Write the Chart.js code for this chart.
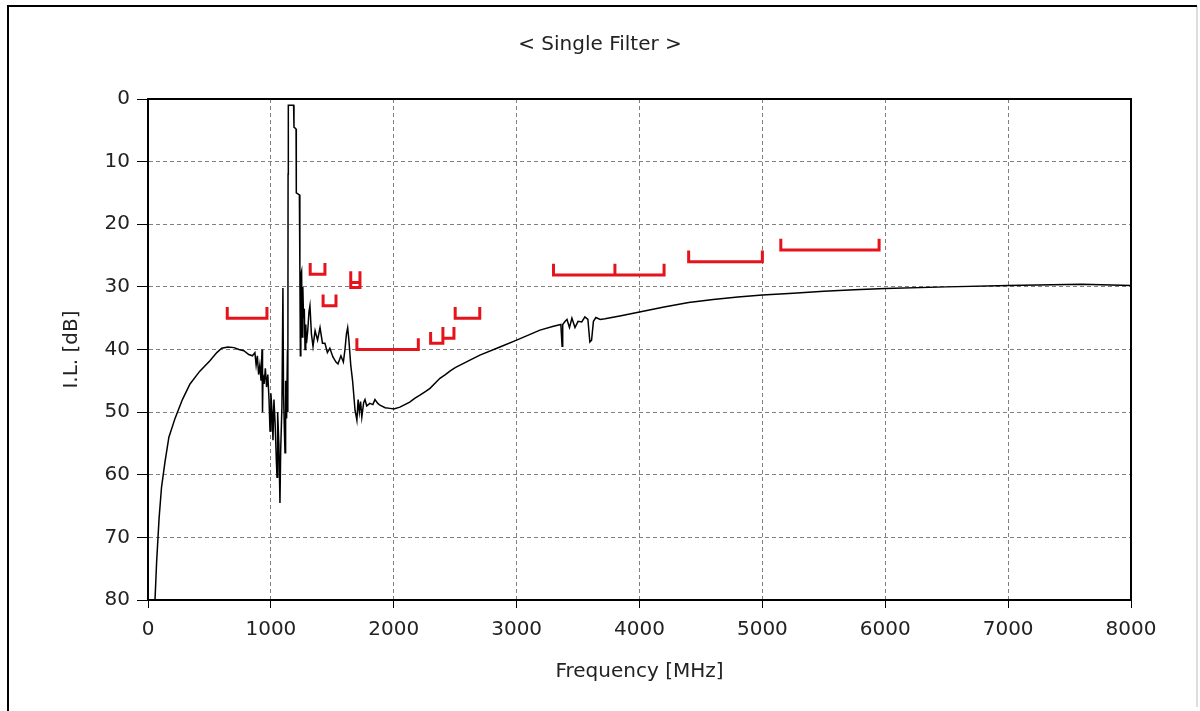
<!DOCTYPE html>
<html>
<head>
<meta charset="utf-8">
<script src="https://cdn.jsdelivr.net/npm/chart.js@4"></script>
<style>
  body { margin: 0; background: #fff; }
  canvas { display: block; }
</style>
</head>
<body>
<canvas id="ilChart" width="1200" height="711"></canvas>
<script>
// Insertion loss curve
const freqMHz = [
  57, 70, 90, 110, 138, 170, 220, 280, 342, 420, 504, 560, 600, 650, 700, 740, 780, 820,
  850, 870, 880, 890, 900, 910, 920, 928, 932, 936, 945, 955, 965, 975, 985, 993,
  1000, 1010, 1017, 1025, 1035, 1045, 1050, 1055, 1065, 1074, 1080, 1090, 1098, 1103,
  1110, 1115, 1120, 1128, 1135, 1138, 1140, 1142, 1185, 1188, 1205, 1207, 1232, 1236,
  1240, 1244, 1250, 1255, 1260, 1266, 1272, 1278, 1284, 1290, 1300, 1310, 1318, 1330,
  1343, 1360, 1380, 1400, 1420, 1440, 1460, 1480, 1505, 1530, 1546, 1570, 1590, 1603,
  1615, 1625, 1635, 1650, 1665, 1685, 1700, 1710, 1720, 1730, 1740, 1755, 1766, 1780,
  1806, 1830, 1847, 1870, 1888, 1930, 1970, 2000, 2050, 2090, 2130, 2170, 2213, 2260,
  2295, 2340, 2376, 2420, 2460, 2500, 2600, 2701, 2864, 3000, 3190, 3300, 3360, 3370, 3375,
  3395, 3410, 3430, 3450, 3475, 3500, 3530, 3556, 3580, 3596, 3610, 3625, 3645, 3680,
  3720, 3850, 4000, 4200, 4400, 4600, 4800, 5000, 5250, 5500, 5750, 6000, 6500, 7000, 7600, 8000
];
const insertionLoss = [
  80, 74, 67, 62, 58, 54, 51, 48, 45.5, 43.5, 41.8, 40.5, 39.8, 39.6, 39.7, 40.0, 40.2, 40.8,
  41.0, 40.5, 42.5, 41, 44, 42.5, 45, 40, 50, 44, 45.5, 43, 46, 44, 48, 53,
  47, 50, 54.5, 48, 52, 58, 60.4, 50, 55, 64.5, 56, 49, 30.2, 47,
  53, 56.5, 45, 51, 40, 50, 12, 1, 1, 4.5, 4.8, 15, 15.3, 27,
  41, 28, 27.5, 38, 30, 35, 33.5, 40, 36, 39, 37, 34, 33, 37.5,
  39.5, 37, 38.5, 36.5, 39, 39, 40.5, 39.8, 41.2, 42, 42.3, 41, 42, 40,
  37.5, 36.5, 38.5, 42.5, 45, 49.7, 51.3, 48, 50, 48.3, 50.8, 48.5, 48, 49,
  48.6, 48.8, 48, 48.6, 48.9, 49.3, 49.4, 49.5, 49.2, 48.8, 48.4, 47.8, 47.3, 46.7,
  46.2, 45.3, 44.6, 44, 43.4, 42.9, 41.9, 40.9, 39.6, 38.5, 36.9, 36.3, 36, 39.5, 36,
  35.5, 35.2, 36.5, 35, 36.5, 35.5, 35.6, 34.8, 35.2, 38.8, 38.5, 35.5, 34.9, 35.2,
  35.1, 34.6, 34.0, 33.2, 32.5, 32.0, 31.6, 31.3, 31.0, 30.7, 30.45, 30.25, 30.0, 29.8, 29.6, 29.8
];

// Red band markers: start / stop frequency and level
const bandLow   = [645, 1320, 1425, 1650, 1650, 1700, 2300, 2400, 2500, 3300, 3800, 4400, 5150];
const bandHigh  = [968, 1440, 1530, 1725, 1725, 2200, 2400, 2490, 2700, 3800, 4200, 5000, 5950];
const bandLevel = [35, 28, 33, 29.3, 30.1, 40, 39, 38.2, 35, 28.1, 28.1, 26, 24.1];

const xTicks = [0, 1000, 2000, 3000, 4000, 5000, 6000, 7000, 8000];
const yTicks = [0, 10, 20, 30, 40, 50, 60, 70, 80];

const BRACKET_TICK = 1.8; // dB, height of the end marks

const curvePoints = freqMHz.map((f, i) => ({ x: f, y: insertionLoss[i] }));

const bandPoints = [];
bandLow.forEach((lo, i) => {
  const hi = bandHigh[i];
  const lv = bandLevel[i];
  bandPoints.push({ x: lo, y: lv - BRACKET_TICK }, { x: lo, y: lv },
                  { x: hi, y: lv }, { x: hi, y: lv - BRACKET_TICK },
                  { x: hi, y: null });
});

const fontFamily = "'DejaVu Sans', Verdana, sans-serif";

// white page with frame, and solid black box round the plot
const framePlugin = {
  id: "frame",
  beforeDraw(chart) {
    const c = chart.ctx;
    c.save();
    c.fillStyle = "#fff";
    c.fillRect(0, 0, chart.width, chart.height);
    c.strokeStyle = "#ddd";
    c.lineWidth = 1;
    c.strokeRect(1196.5, 6.5, 1, 700);
    c.strokeStyle = "#000";
    c.lineWidth = 2;
    c.beginPath();
    c.moveTo(8, 711);
    c.lineTo(8, 6);
    c.lineTo(1197, 6);
    c.stroke();
    c.restore();
  },
  afterDraw(chart) {
    const a = chart.chartArea;
    const c = chart.ctx;
    c.save();
    c.strokeStyle = "#000";
    c.lineWidth = 2;
    c.strokeRect(a.left, a.top, a.right - a.left, a.bottom - a.top);
    c.restore();
  }
};

new Chart(document.getElementById("ilChart").getContext("2d"), {
  type: "line",
  data: {
    datasets: [
      {
        label: "I.L.",
        data: curvePoints,
        borderColor: "#000",
        borderWidth: 1.5,
        pointRadius: 0,
        tension: 0,
        fill: false,
      },
      {
        label: "Bands",
        data: bandPoints,
        borderColor: "#e5131b",
        borderWidth: 3,
        pointRadius: 0,
        tension: 0,
        spanGaps: false,
        fill: false,
      },
    ],
  },
  options: {
    responsive: false,
    animation: false,
    layout: { padding: 0 },
    plugins: {
      legend: { display: false },
      tooltip: { enabled: false },
      title: {
        display: true,
        text: "< Single Filter >",
        color: "#222",
        font: { family: fontFamily, size: 20, weight: "normal" },
        padding: { top: 33, bottom: 42 },
      },
    },
    scales: {
      x: {
        type: "linear",
        min: 0,
        max: 8000,
        afterBuildTicks: (s) => { s.ticks = xTicks.map((v) => ({ value: v })); },
        afterFit: (s) => { s.height = 111; },
        ticks: {
          color: "#222",
          padding: 10,
          maxRotation: 0,
          font: { family: fontFamily, size: 20 },
          callback: (v) => String(v),
        },
        grid: {
          color: "#808080",
          tickColor: "#000",
          tickLength: 8,
          tickBorderDash: [],
        },
        border: { color: "#000", width: 2, dash: [4, 3] },
        title: {
          display: true,
          text: "Frequency [MHz]",
          color: "#222",
          font: { family: fontFamily, size: 20 },
          padding: { bottom: 27 },
        },
      },
      y: {
        type: "linear",
        min: 0,
        max: 80,
        reverse: true,
        afterBuildTicks: (s) => { s.ticks = yTicks.map((v) => ({ value: v })); },
        afterFit: (s) => { s.width = 148; },
        ticks: {
          color: "#222",
          padding: 7,
          font: { family: fontFamily, size: 20 },
          callback: (v) => String(v),
        },
        grid: {
          color: "#808080",
          tickColor: "#000",
          tickLength: 11,
          tickBorderDash: [],
        },
        border: { color: "#000", width: 2, dash: [4, 3] },
        title: {
          display: true,
          text: "I.L. [dB]",
          color: "#222",
          font: { family: fontFamily, size: 20 },
          padding: { top: 60 },
        },
      },
      // empty right-hand strip so the plot ends at 8000 MHz where the original does
      yRight: {
        type: "linear",
        position: "right",
        min: 0,
        max: 80,
        afterFit: (s) => { s.width = 69; },
        ticks: { display: false },
        grid: { display: false },
        border: { display: false },
      },
    },
  },
  plugins: [framePlugin],
});
</script>
</body>
</html>
